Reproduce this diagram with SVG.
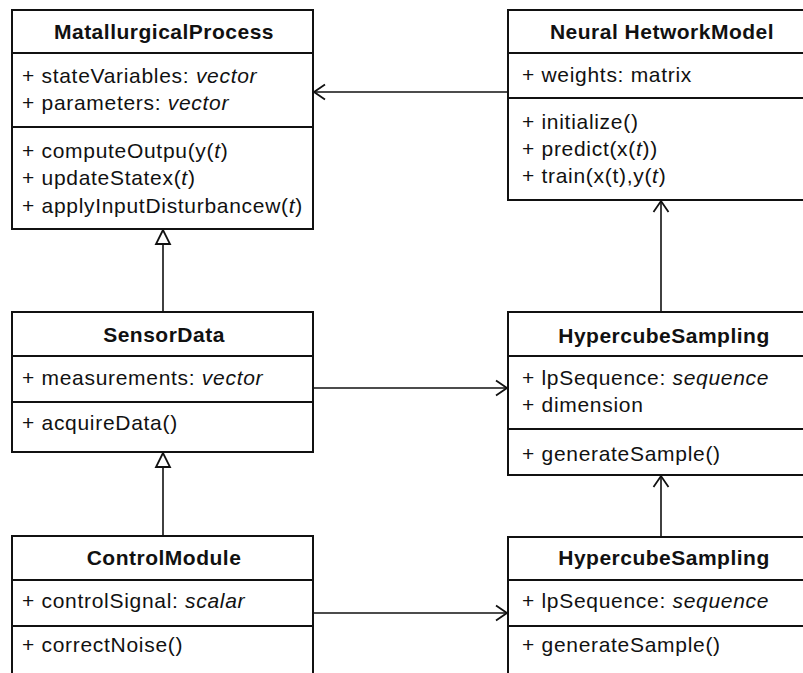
<svg xmlns="http://www.w3.org/2000/svg" width="803" height="673" viewBox="0 0 803 673">
  <style>
    .box { fill: #ffffff; stroke: #111111; stroke-width: 2; }
    .div { stroke: #111111; stroke-width: 2; }
    .title { font-family: "Liberation Sans", Arial, sans-serif; font-size: 21px; font-weight: bold; fill: #111111; text-anchor: middle; letter-spacing: 0.5px; }
    .txt { font-family: "Liberation Sans", Arial, sans-serif; font-size: 21px; fill: #111111; letter-spacing: 0.7px; }
    .it { font-style: italic; }
    .conn { stroke: #111111; stroke-width: 1.6; fill: none; }
  </style>
  <defs>
    <marker id="open" viewBox="-13 -9 15 18" refX="0" refY="0" markerWidth="15" markerHeight="18" markerUnits="userSpaceOnUse" orient="auto">
      <path d="M-11,-7.5 L0,0 L-11,7.5" fill="none" stroke="#111111" stroke-width="1.8"/>
    </marker>
    <marker id="tri" viewBox="-16 -9 18 18" refX="0" refY="0" markerWidth="18" markerHeight="18" markerUnits="userSpaceOnUse" orient="auto">
      <path d="M0,0 L-14,-7 L-14,7 Z" fill="#ffffff" stroke="#111111" stroke-width="1.8" stroke-linejoin="miter"/>
    </marker>
  </defs>
  <rect width="803" height="673" fill="#ffffff"/>

  <!-- connectors -->
  <g id="connectors">
    <line class="conn" x1="508" y1="92" x2="314" y2="92" marker-end="url(#open)"/>
    <line class="conn" x1="313" y1="388" x2="507" y2="388" marker-end="url(#open)"/>
    <line class="conn" x1="313" y1="613" x2="507" y2="613" marker-end="url(#open)"/>
    <line class="conn" x1="661" y1="312" x2="661" y2="201" marker-end="url(#open)"/>
    <line class="conn" x1="661" y1="537" x2="661" y2="476" marker-end="url(#open)"/>
    <line class="conn" x1="163" y1="312" x2="163" y2="230" marker-end="url(#tri)"/>
    <line class="conn" x1="163" y1="536" x2="163" y2="453" marker-end="url(#tri)"/>
  </g>

  <!-- MatallurgicalProcess -->
  <g id="matallurgical-process">
    <rect class="box" x="12" y="10" width="301" height="219"/>
    <line class="div" x1="12" y1="53" x2="313" y2="53"/>
    <line class="div" x1="12" y1="127" x2="313" y2="127"/>
    <text class="title" x="164" y="39">MatallurgicalProcess</text>
    <text class="txt" x="22" y="83">+ stateVariables: <tspan class="it">vector</tspan></text>
    <text class="txt" x="22" y="110">+ parameters: <tspan class="it">vector</tspan></text>
    <text class="txt" x="22" y="158">+ computeOutpu(y(<tspan class="it">t</tspan>)</text>
    <text class="txt" x="22" y="185">+ updateStatex(<tspan class="it">t</tspan>)</text>
    <text class="txt" x="22" y="213">+ applyInputDisturbancew(<tspan class="it">t</tspan>)</text>
  </g>

  <!-- Neural HetworkModel -->
  <g id="neural-network-model">
    <rect class="box" x="508" y="10" width="310" height="190"/>
    <line class="div" x1="508" y1="53" x2="818" y2="53"/>
    <line class="div" x1="508" y1="98" x2="818" y2="98"/>
    <text class="title" x="662" y="39">Neural HetworkModel</text>
    <text class="txt" x="522" y="82">+ weights: matrix</text>
    <text class="txt" x="522" y="129">+ initialize()</text>
    <text class="txt" x="522" y="156">+ predict(x(<tspan class="it">t</tspan>))</text>
    <text class="txt" x="522" y="183">+ train(x(t),y(<tspan class="it">t</tspan>)</text>
  </g>

  <!-- SensorData -->
  <g id="sensor-data">
    <rect class="box" x="12" y="312" width="301" height="140"/>
    <line class="div" x1="12" y1="356" x2="313" y2="356"/>
    <line class="div" x1="12" y1="402" x2="313" y2="402"/>
    <text class="title" x="164" y="342">SensorData</text>
    <text class="txt" x="22" y="385">+ measurements: <tspan class="it">vector</tspan></text>
    <text class="txt" x="22" y="430">+ acquireData()</text>
  </g>

  <!-- HypercubeSampling (upper) -->
  <g id="hypercube-sampling-1">
    <rect class="box" x="508" y="312" width="310" height="163"/>
    <line class="div" x1="508" y1="356" x2="818" y2="356"/>
    <line class="div" x1="508" y1="429" x2="818" y2="429"/>
    <text class="title" x="664" y="343">HypercubeSampling</text>
    <text class="txt" x="522" y="385">+ lpSequence: <tspan class="it">sequence</tspan></text>
    <text class="txt" x="522" y="412">+ dimension</text>
    <text class="txt" x="522" y="461">+ generateSample()</text>
  </g>

  <!-- ControlModule -->
  <g id="control-module">
    <rect class="box" x="12" y="536" width="301" height="150"/>
    <line class="div" x1="12" y1="580" x2="313" y2="580"/>
    <line class="div" x1="12" y1="626" x2="313" y2="626"/>
    <text class="title" x="164" y="565">ControlModule</text>
    <text class="txt" x="22" y="608">+ controlSignal: <tspan class="it">scalar</tspan></text>
    <text class="txt" x="22" y="652">+ correctNoise()</text>
  </g>

  <!-- HypercubeSampling (lower) -->
  <g id="hypercube-sampling-2">
    <rect class="box" x="508" y="537" width="310" height="150"/>
    <line class="div" x1="508" y1="580" x2="818" y2="580"/>
    <line class="div" x1="508" y1="626" x2="818" y2="626"/>
    <text class="title" x="664" y="565">HypercubeSampling</text>
    <text class="txt" x="522" y="608">+ lpSequence: <tspan class="it">sequence</tspan></text>
    <text class="txt" x="522" y="652">+ generateSample()</text>
  </g>
</svg>
